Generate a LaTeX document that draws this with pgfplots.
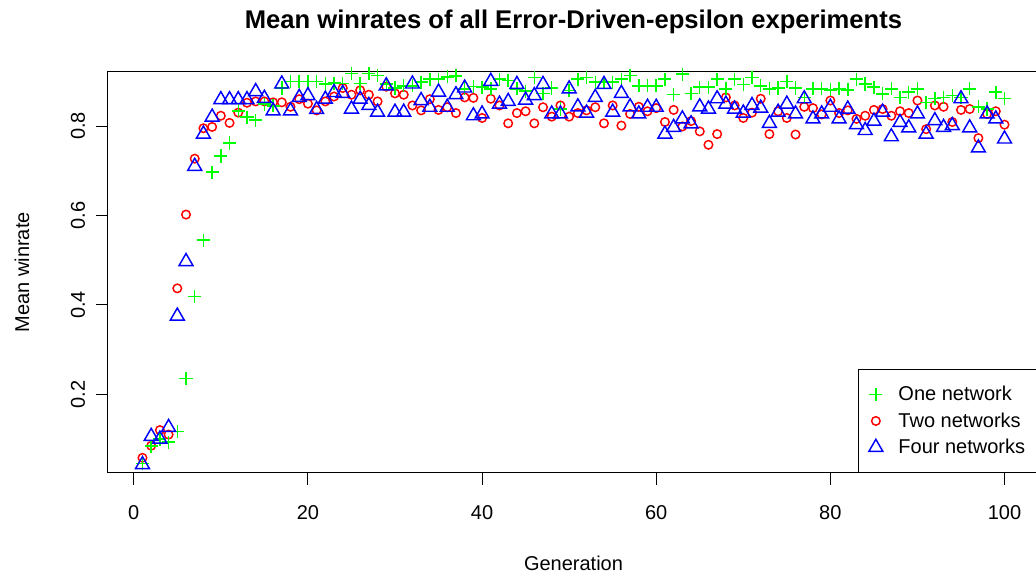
\documentclass[border=0pt]{standalone}
\usepackage{fontspec}
\setmainfont{Liberation Sans}
\usepackage{pgfplots}
\usepackage{pgfplotstable}
\pgfplotsset{compat=1.18}
\definecolor{rgreen}{RGB}{0,255,0}
\definecolor{rred}{RGB}{255,0,0}
\definecolor{rblue}{RGB}{0,0,255}

\pgfplotstableread{
g v
1 0.045
2 0.084
3 0.100
4 0.093
5 0.117
6 0.236
7 0.419
8 0.545
9 0.697
10 0.733
11 0.762
12 0.834
13 0.820
14 0.813
15 0.849
16 0.845
17 0.885
18 0.900
19 0.900
20 0.900
21 0.900
22 0.894
23 0.896
24 0.895
25 0.918
26 0.895
27 0.917
28 0.913
29 0.894
30 0.885
31 0.890
32 0.890
33 0.898
34 0.905
35 0.905
36 0.910
37 0.912
38 0.883
39 0.888
40 0.887
41 0.883
42 0.905
43 0.902
44 0.883
45 0.878
46 0.908
47 0.873
48 0.885
49 0.838
50 0.879
51 0.905
52 0.908
53 0.898
54 0.898
55 0.898
56 0.905
57 0.913
58 0.890
59 0.890
60 0.890
61 0.905
62 0.870
63 0.916
64 0.873
65 0.887
66 0.887
67 0.905
68 0.883
69 0.905
70 0.893
71 0.908
72 0.890
73 0.883
74 0.885
75 0.900
76 0.885
77 0.864
78 0.883
79 0.883
80 0.881
81 0.883
82 0.881
83 0.905
84 0.894
85 0.887
86 0.872
87 0.883
88 0.864
89 0.876
90 0.883
91 0.853
92 0.861
93 0.864
94 0.868
95 0.864
96 0.883
97 0.843
98 0.838
99 0.876
100 0.861
}\onenet

\pgfplotstableread{
g v
1 0.058
2 0.085
3 0.120
4 0.110
5 0.437
6 0.602
7 0.727
8 0.795
9 0.798
10 0.823
11 0.807
12 0.830
13 0.852
14 0.855
15 0.855
16 0.853
17 0.853
18 0.843
19 0.860
20 0.850
21 0.835
22 0.855
23 0.866
24 0.885
25 0.870
26 0.880
27 0.870
28 0.855
29 0.888
30 0.873
31 0.870
32 0.846
33 0.835
34 0.860
35 0.836
36 0.842
37 0.829
38 0.864
39 0.863
40 0.818
41 0.861
42 0.846
43 0.806
44 0.829
45 0.833
46 0.806
47 0.842
48 0.821
49 0.846
50 0.821
51 0.829
52 0.835
53 0.842
54 0.806
55 0.846
56 0.801
57 0.827
58 0.843
59 0.833
60 0.840
61 0.809
62 0.836
63 0.799
64 0.811
65 0.788
66 0.758
67 0.782
68 0.864
69 0.846
70 0.818
71 0.830
72 0.861
73 0.782
74 0.833
75 0.818
76 0.781
77 0.843
78 0.840
79 0.826
80 0.857
81 0.829
82 0.835
83 0.816
84 0.823
85 0.836
86 0.838
87 0.823
88 0.833
89 0.829
90 0.857
91 0.793
92 0.846
93 0.843
94 0.809
95 0.836
96 0.838
97 0.773
98 0.827
99 0.833
100 0.803
}\twonet

\pgfplotstableread{
g v
1 0.043
2 0.106
3 0.100
4 0.126
5 0.375
6 0.497
7 0.710
8 0.782
9 0.820
10 0.859
11 0.859
12 0.859
13 0.859
14 0.877
15 0.862
16 0.834
17 0.894
18 0.834
19 0.864
20 0.868
21 0.837
22 0.860
23 0.875
24 0.873
25 0.838
26 0.860
27 0.846
28 0.831
29 0.890
30 0.831
31 0.831
32 0.894
33 0.857
34 0.842
35 0.876
36 0.842
37 0.870
38 0.885
39 0.823
40 0.827
41 0.900
42 0.849
43 0.855
44 0.893
45 0.858
46 0.868
47 0.893
48 0.827
49 0.827
50 0.883
51 0.843
52 0.829
53 0.864
54 0.893
55 0.831
56 0.873
57 0.843
58 0.827
59 0.842
60 0.842
61 0.782
62 0.797
63 0.816
64 0.805
65 0.843
66 0.838
67 0.861
68 0.849
69 0.838
70 0.829
71 0.846
72 0.840
73 0.806
74 0.831
75 0.849
76 0.827
77 0.861
78 0.816
79 0.827
80 0.842
81 0.816
82 0.838
83 0.803
84 0.790
85 0.811
86 0.831
87 0.776
88 0.808
89 0.796
90 0.827
91 0.782
92 0.812
93 0.797
94 0.801
95 0.861
96 0.796
97 0.751
98 0.827
99 0.816
100 0.771
}\fournet

\begin{document}
\begin{tikzpicture}
\begin{axis}[
  scale only axis, width=698.25pt, height=300.75pt,
  xmin=-2.96, xmax=103.96, ymin=0.0247, ymax=0.9214,
  axis line style={line width=0.75pt},
  xtick={0,20,40,60,80,100}, xticklabels={0,20,40,60,80,100},
  ytick={0.2,0.4,0.6,0.8}, yticklabels={0.2,0.4,0.6,0.8},
  xtick pos=left, ytick pos=left,
  tick align=outside, major tick length=9pt,
  tick style={black, line width=0.75pt},
  tick label style={font=\fontsize{15}{18}\selectfont},
  xticklabel style={anchor=center, yshift=-20.8pt},
  yticklabel style={anchor=center, xshift=-13.5pt, rotate=90},
  title={Mean winrates of all Error-Driven-epsilon experiments},
  every axis title/.style={at={(axis description cs:0.5,1)}, anchor=center, yshift=37.5pt, font=\bfseries\fontsize{19.2}{22}\selectfont},
  xlabel={Generation}, ylabel={Mean winrate},
  every axis x label/.style={at={(axis description cs:0.5,0)}, anchor=center, yshift=-67.7pt, font=\fontsize{15}{18}\selectfont},
  every axis y label/.style={at={(axis description cs:0,0.5)}, anchor=center, xshift=-64.5pt, rotate=90, font=\fontsize{15}{18}\selectfont},
  every axis plot/.append style={line width=1.1pt},
  legend style={at={(axis description cs:1,0)}, anchor=south east, draw=black, line width=0.75pt,
    font=\fontsize{15}{18}\selectfont, inner xsep=8pt, inner ysep=10.5pt, row sep=3.4pt,
    nodes={inner sep=2pt},
    /tikz/every odd column/.append style={column sep=9.75pt}},
  legend cell align=left,
]
\addplot[only marks, mark=o, mark size=3.2pt, color=rred, mark options={draw=rred}, forget plot] table[x=g, y=v] {\twonet};
\addplot[only marks, mark=+, mark size=4.9pt, color=rgreen, mark options={draw=rgreen}, forget plot] table[x=g, y=v] {\onenet};
\addplot[only marks, mark=triangle, mark size=6pt, color=rblue, mark options={draw=rblue}, forget plot] table[x=g, y=v] {\fournet};
\addlegendimage{only marks, mark=+, mark size=4.9pt, color=rgreen, line width=1.1pt}
\addlegendentry{One network}
\addlegendimage{only marks, mark=o, mark size=3.2pt, color=rred, line width=1.1pt}
\addlegendentry{Two networks}
\addlegendimage{only marks, mark=triangle, mark size=6pt, color=rblue, line width=1.1pt}
\addlegendentry{Four networks}
\end{axis}
\pgfresetboundingbox
\useasboundingbox (-81pt,-78.2pt) rectangle (696pt,354.55pt);
\end{tikzpicture}
\end{document}
